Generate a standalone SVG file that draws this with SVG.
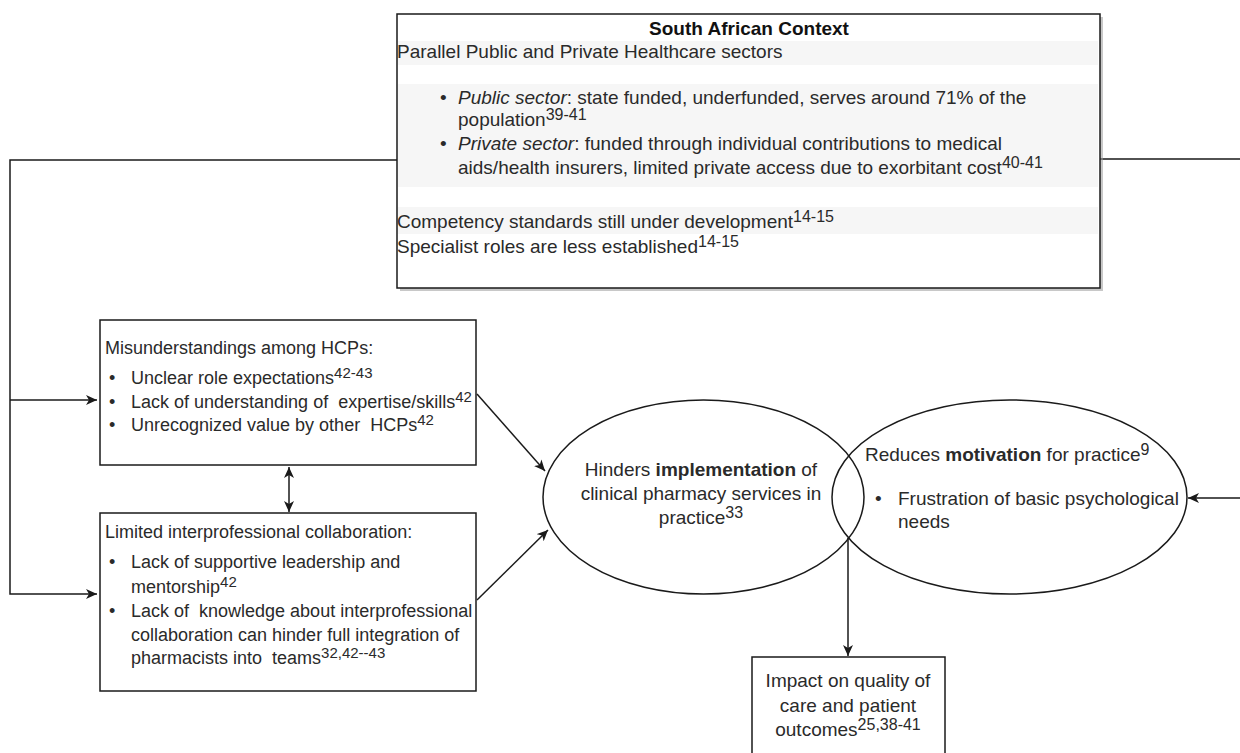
<svg xmlns="http://www.w3.org/2000/svg" width="1240" height="753" viewBox="0 0 1240 753">
<style>
text{font-family:"Liberation Sans",Arial,sans-serif;fill:#2a2a2a}
.t19{font-size:19px}
.t18{font-size:18px}
.b{font-weight:bold}
.i{font-style:italic}
.sup{font-size:15px}
.sup16{font-size:16px}
.box{fill:#fff;stroke:#1a1a1a;stroke-width:1.5}
.line{fill:none;stroke:#1a1a1a;stroke-width:1.5}
.band{fill:#f6f6f6}
</style>
<defs>
<marker id="arr" markerUnits="userSpaceOnUse" markerWidth="12" markerHeight="10" refX="11" refY="5" orient="auto-start-reverse">
<path d="M0,0 L11,5 L0,10 L3,5 z" fill="#1a1a1a"/>
</marker>
</defs>
<rect width="1240" height="753" fill="#fff"/>

<g id="connectors">
<path class="line" d="M397,160 H10 V594 H97" marker-end="url(#arr)"/>
<path class="line" d="M10,400 H97" marker-end="url(#arr)"/>
<path class="line" d="M1100,159 H1242 V498 H1188" marker-end="url(#arr)"/>
<path class="line" d="M477,394 L545,471" marker-end="url(#arr)"/>
<path class="line" d="M477,600 L548,530" marker-end="url(#arr)"/>
<path class="line" d="M289,467 V512" marker-start="url(#arr)" marker-end="url(#arr)"/>
<path class="line" d="M848,538 V656" marker-end="url(#arr)"/>
</g>

<g id="context">
<rect x="400" y="17" width="703" height="274" fill="#9a9a9a" opacity="0.55"/>
<rect class="box" x="397" y="14" width="703" height="274"/>
<rect class="band" x="398" y="41" width="700" height="24"/>
<rect class="band" x="398" y="84" width="700" height="103"/>
<rect class="band" x="398" y="207" width="700" height="27"/>
<text class="t19 b" x="749" y="35" text-anchor="middle" style="fill:#111">South African Context</text>
<text class="t19" x="397" y="58">Parallel Public and Private Healthcare sectors</text>
<text class="t19" x="440" y="104">•</text>
<text class="t19" x="458" y="104"><tspan class="i">Public sector</tspan>: state funded, underfunded, serves around 71% of the</text>
<text class="t19" x="458" y="126">population<tspan class="sup16" dy="-6">39-41</tspan></text>
<text class="t19" x="440" y="150">•</text>
<text class="t19" x="458" y="150"><tspan class="i">Private sector</tspan>: funded through individual contributions to medical</text>
<text class="t19" x="458" y="174">aids/health insurers, limited private access due to exorbitant cost<tspan class="sup16" dy="-6">40-41</tspan></text>
<text class="t19" x="397" y="228">Competency standards still under development<tspan class="sup16" dy="-6">14-15</tspan></text>
<text class="t19" x="397" y="253">Specialist roles are less established<tspan class="sup16" dy="-6">14-15</tspan></text>
</g>

<g id="misunderstandings">
<rect class="box" x="100" y="320" width="376" height="145"/>
<text class="t18" x="105" y="354">Misunderstandings among HCPs:</text>
<text class="t18" x="109" y="384">•</text>
<text class="t18" x="131" y="384">Unclear role expectations<tspan class="sup" dy="-6">42-43</tspan></text>
<text class="t18" x="109" y="408">•</text>
<text class="t18" x="131" y="408">Lack of understanding of&#160; expertise/skills<tspan class="sup" dy="-6">42</tspan></text>
<text class="t18" x="109" y="431">•</text>
<text class="t18" x="131" y="431">Unrecognized value by other&#160; HCPs<tspan class="sup" dy="-6">42</tspan></text>
</g>

<g id="collaboration">
<rect class="box" x="100" y="513" width="376" height="178"/>
<text class="t18" x="105" y="538">Limited interprofessional collaboration:</text>
<text class="t18" x="109" y="568">•</text>
<text class="t18" x="131" y="568">Lack of supportive leadership and</text>
<text class="t18" x="131" y="593">mentorship<tspan class="sup" dy="-6">42</tspan></text>
<text class="t18" x="109" y="617">•</text>
<text class="t18" x="131" y="617">Lack of&#160; knowledge about interprofessional</text>
<text class="t18" x="131" y="641">collaboration can hinder full integration of</text>
<text class="t18" x="131" y="664">pharmacists into&#160; teams<tspan class="sup" dy="-6">32,42--43</tspan></text>
</g>

<g id="hinders">
<ellipse class="line" cx="703.5" cy="497" rx="160.5" ry="97"/>
<text class="t19" x="701" y="476" text-anchor="middle">Hinders <tspan class="b">implementation</tspan> of</text>
<text class="t19" x="701" y="500" text-anchor="middle">clinical pharmacy services in</text>
<text class="t19" x="701" y="524" text-anchor="middle">practice<tspan class="sup16" dy="-6">33</tspan></text>
</g>

<g id="motivation">
<ellipse class="line" cx="1009.5" cy="497" rx="177.5" ry="97"/>
<text class="t19" x="865" y="461">Reduces <tspan class="b">motivation</tspan> for practice<tspan class="sup16" dy="-6">9</tspan></text>
<text class="t19" x="875" y="505">•</text>
<text class="t19" x="898" y="505">Frustration of basic psychological</text>
<text class="t19" x="898" y="528">needs</text>
</g>

<g id="impact">
<rect class="box" x="752" y="657" width="193" height="102"/>
<text class="t19" x="848" y="687" text-anchor="middle">Impact on quality of</text>
<text class="t19" x="848" y="712" text-anchor="middle">care and patient</text>
<text class="t19" x="848" y="736" text-anchor="middle">outcomes<tspan class="sup16" dy="-6">25,38-41</tspan></text>
</g>
</svg>
